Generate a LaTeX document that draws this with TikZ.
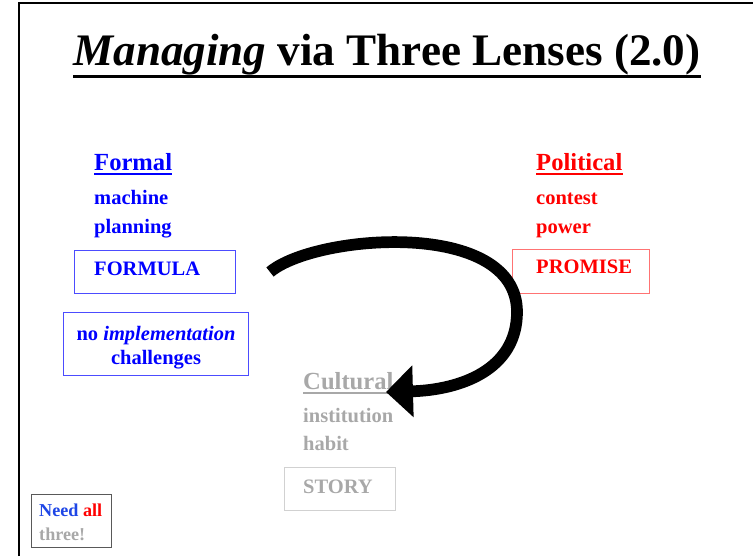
\documentclass[tikz,border=0pt]{standalone}
\usepackage{fontspec}
\setmainfont{Liberation Serif}
\usetikzlibrary{arrows.meta}
\definecolor{formalblue}{RGB}{0,0,255}
\definecolor{politicalred}{RGB}{255,0,0}
\definecolor{culturalgray}{RGB}{168,168,168}
\definecolor{needblue}{RGB}{30,70,230}

\begin{document}
\begin{tikzpicture}[x=0.03cm,y=-0.03cm,>=Stealth,
  lbl/.style={anchor=base west,inner sep=0pt},
  lens/.style={lbl,font=\fontsize{21}{24}\selectfont\bfseries},
  word/.style={lbl,font=\fontsize{17.5}{20}\selectfont\bfseries}]
\useasboundingbox (0,0) rectangle (753,556);
\draw[line width=1.6pt] (19,556) -- (19,3) -- (753,3);
\node[anchor=base,inner sep=0pt,font=\fontsize{38.5}{42}\selectfont\bfseries] (title) at (387,65) {\textit{Managing} via Three Lenses (2.0)};
\draw[line width=2.4pt] ([yshift=-9.5pt]title.base west) -- ([yshift=-9.5pt]title.base east);
\node[lens,formalblue] (formal) at (94,170) {Formal};
\draw[formalblue,line width=1.7pt] ([yshift=-3pt]formal.base west) -- ([yshift=-3pt]formal.base east);
\node[word,formalblue] (machine) at (94,204) {machine};
\node[word,formalblue] (planning) at (94,233) {planning};
\draw[formalblue!70,line width=0.7pt] (74,250) rectangle (235,293);
\node[word,formalblue] (formula) at (94,275) {FORMULA};
\draw[formalblue!70,line width=0.7pt] (63,312) rectangle (248,375);
\node[word,anchor=base,formalblue] (noimpl) at (156,340) {no \textit{implementation}};
\node[word,anchor=base,formalblue] (challenges) at (156,364) {challenges};
\node[lens,politicalred] (political) at (536,170) {Political};
\draw[politicalred,line width=1.7pt] ([yshift=-3pt]political.base west) -- ([yshift=-3pt]political.base east);
\node[word,politicalred] (contest) at (536,204) {contest};
\node[word,politicalred] (power) at (536,233) {power};
\draw[politicalred!55,line width=0.7pt] (512,249) rectangle (649,293);
\node[word,politicalred] (promise) at (536,273) {PROMISE};
\node[lens,culturalgray] (cultural) at (303,389) {Cultural};
\draw[culturalgray,line width=1.7pt] ([yshift=-3pt]cultural.base west) -- ([yshift=-3pt]cultural.base east);
\node[word,culturalgray] (institution) at (303,422) {institution};
\node[word,culturalgray] (habit) at (303,450) {habit};
\draw[black!18,line width=0.7pt] (284,467) rectangle (395,510);
\node[word,culturalgray] (story) at (303,493) {STORY};
\draw[line width=10pt,-{Triangle[length=23pt,width=43pt]}] (270,272) .. controls (315,234) and (517,218) .. (517,312) .. controls (517,370) and (460,390) .. (386,392);
\draw[black!65,line width=0.7pt] (31,494) rectangle (111,547);
\node[lbl,font=\fontsize{15.5}{18}\selectfont\bfseries] (needall) at (39,516) {\textcolor{needblue}{Need} \textcolor{politicalred}{all}};
\node[lbl,culturalgray,font=\fontsize{15.5}{18}\selectfont\bfseries] (three) at (39,540) {three!};
\end{tikzpicture}
\end{document}
